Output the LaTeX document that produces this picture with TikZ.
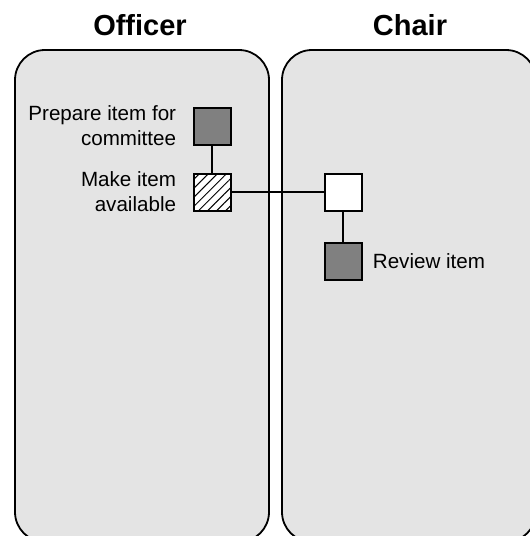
\documentclass[tikz,border=0pt]{standalone}
\usepackage{fontspec}
\setmainfont{Liberation Sans}
\usetikzlibrary{positioning,patterns.meta}
\definecolor{lanegray}{RGB}{228,228,228}
\definecolor{taskgray}{RGB}{128,128,128}

\begin{document}
\begin{tikzpicture}[x=0.5pt,y=-0.5pt,
        task/.style={draw,line width=1pt,minimum size=18.5pt,inner sep=0pt},
        tasklabel/.style={font=\fontsize{10.3}{12.5}\selectfont,inner sep=0pt},
        lanetitle/.style={font=\bfseries\fontsize{14.5}{17}\selectfont}]
            \useasboundingbox (0,0) rectangle (530,536);
            \clip (0,0) rectangle (530,536);

            % Lanes
            \draw[line width=0.9pt,fill=lanegray,rounded corners=15pt] (15,50) rectangle (269,542);
            \draw[line width=0.9pt,fill=lanegray,rounded corners=15pt] (282,50) rectangle (536,542);

            \node[lanetitle] (officer) at (140,25) {Officer};
            \node[lanetitle] (chair) at (410,25) {Chair};

            % Tasks
            \node[task,fill=taskgray] (prepare) at (212,126) {};
            \node[task,fill=white,postaction={pattern={Lines[angle=45,distance=3.2pt,line width=0.5pt]}}] (avail) at (212,192) {};
            \node[task,fill=white] (receive) at (343,192) {};
            \node[task,fill=taskgray] (review) at (343,261) {};

            % Links
            \draw[line width=1pt] (prepare) -- (avail);
            \draw[line width=1pt] (avail) -- (receive);
            \draw[line width=1pt] (receive) -- (review);

            % Labels
            \node[tasklabel,align=right,left=8pt of prepare] (preparetext) {Prepare item for\\committee};
            \node[tasklabel,align=right,left=8pt of avail] (availtext) {Make item\\available};
            \node[tasklabel,right=5pt of review] (reviewtext) {Review item};
        \end{tikzpicture}
\end{document}
